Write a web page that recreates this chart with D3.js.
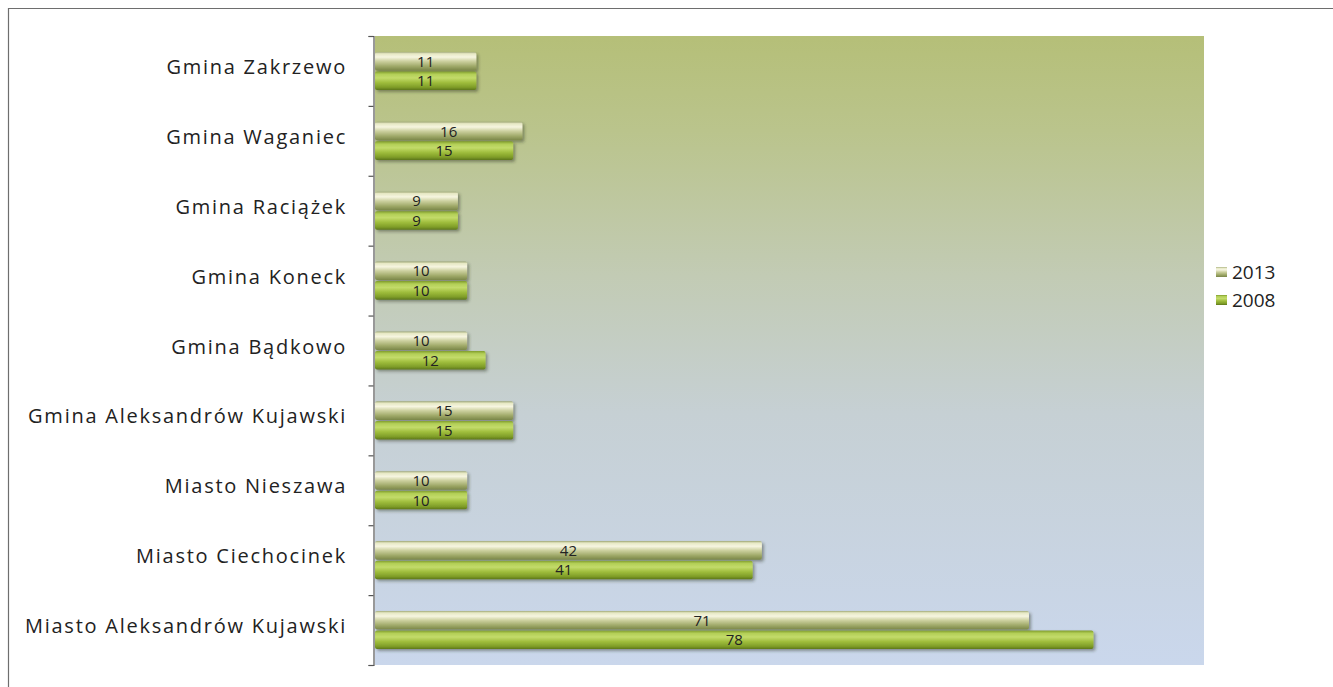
<!DOCTYPE html>
<html>
<head>
<meta charset="utf-8">
<script src="https://cdn.jsdelivr.net/npm/d3@7"></script>
<style>
  html, body { margin: 0; padding: 0; background: #ffffff; }
  svg { display: block; }
</style>
</head>
<body>
<svg id="chart" width="1333" height="687"></svg>
<script>
const categories = [
  "Gmina Zakrzewo",
  "Gmina Waganiec",
  "Gmina Raciążek",
  "Gmina Koneck",
  "Gmina Bądkowo",
  "Gmina Aleksandrów Kujawski",
  "Miasto Nieszawa",
  "Miasto Ciechocinek",
  "Miasto Aleksandrów Kujawski"
];
const seriesNames = ["2013", "2008"];
const values2013 = [11, 16, 9, 10, 10, 15, 10, 42, 71];
const values2008 = [11, 15, 9, 10, 12, 15, 10, 41, 78];
const xMax = 90;

const svg = d3.select("#chart");
const W = 1333, H = 687;
const plot = { left: 375, right: 1204, top: 36, bottom: 665 };
const FONT = "'Open Sans', 'Noto Sans', sans-serif";

// outer frame
svg.append("path")
  .attr("d", `M8.5,${H} L8.5,8.5 L${W},8.5`)
  .attr("fill", "none").attr("stroke", "#6e6e6e").attr("stroke-width", 1.2);

const defs = svg.append("defs");
const bg = defs.append("linearGradient").attr("id", "bgGrad")
  .attr("x1", 0).attr("y1", 0).attr("x2", 0).attr("y2", 1);
[[0, "#b5bf78"], [0.15, "#bac48c"], [0.38, "#c2cbb4"], [0.6, "#c6d0d4"], [1, "#cad7ec"]]
  .forEach(([o, c]) => bg.append("stop").attr("offset", o).attr("stop-color", c));

const g13 = defs.append("linearGradient").attr("id", "g2013")
  .attr("x1", 0).attr("y1", 0).attr("x2", 0).attr("y2", 1);
[[0, "#a0a877"], [0.1, "#e6e8c4"], [0.28, "#f6f5e0"], [0.5, "#cdd1a0"], [0.78, "#9ea867"], [1, "#7a8648"]]
  .forEach(([o, c]) => g13.append("stop").attr("offset", o).attr("stop-color", c));

const g08 = defs.append("linearGradient").attr("id", "g2008")
  .attr("x1", 0).attr("y1", 0).attr("x2", 0).attr("y2", 1);
[[0, "#7f9c2c"], [0.15, "#b3cf57"], [0.35, "#c3db6a"], [0.6, "#9fbd3c"], [0.85, "#7f9d28"], [1, "#5d761b"]]
  .forEach(([o, c]) => g08.append("stop").attr("offset", o).attr("stop-color", c));

const shadow = defs.append("filter").attr("id", "shadow")
  .attr("x", "-5%").attr("y", "-30%").attr("width", "115%").attr("height", "170%");
shadow.append("feDropShadow").attr("dx", 2).attr("dy", 2).attr("stdDeviation", 1.6)
  .attr("flood-color", "#2a3020").attr("flood-opacity", 0.45);

svg.append("rect")
  .attr("x", plot.left).attr("y", plot.top)
  .attr("width", plot.right - plot.left).attr("height", plot.bottom - plot.top)
  .attr("fill", "url(#bgGrad)");

const x = d3.scaleLinear().domain([0, xMax]).range([plot.left, plot.right]);
const y = d3.scaleBand().domain(categories).range([plot.top, plot.bottom])
  .paddingInner(0.44).paddingOuter(0.22);
const ySub = d3.scaleBand().domain(seriesNames).range([0, y.bandwidth()]);

// axis
const yAxis = d3.axisLeft(d3.scaleLinear().domain([0, categories.length]).range([plot.top, plot.bottom]))
  .ticks(categories.length).tickFormat("").tickSize(5).tickSizeOuter(5);
const ax = svg.append("g").attr("transform", `translate(${plot.left - 1.5},0)`).call(yAxis);
ax.selectAll("path, line").attr("stroke", "#555").attr("stroke-width", 1.2);

const data = [];
categories.forEach((c, i) => {
  data.push({ cat: c, s: "2013", v: values2013[i] });
  data.push({ cat: c, s: "2008", v: values2008[i] });
});

const bars = svg.append("g");
bars.selectAll("rect").data(data).enter().append("rect")
  .attr("x", x(0))
  .attr("y", d => y(d.cat) + ySub(d.s) + 0.5)
  .attr("width", d => x(d.v) - x(0))
  .attr("height", ySub.bandwidth() - 1)
  .attr("rx", 2)
  .attr("fill", d => d.s === "2013" ? "url(#g2013)" : "url(#g2008)")
  .attr("filter", "url(#shadow)");

svg.append("g").selectAll("text").data(data).enter().append("text")
  .attr("x", d => (x(0) + x(d.v)) / 2)
  .attr("y", d => y(d.cat) + ySub(d.s) + ySub.bandwidth() / 2 + 5.5)
  .attr("text-anchor", "middle")
  .attr("font-family", FONT)
  .attr("font-size", 15)
  .attr("fill", "#222")
  .text(d => d.v);

svg.append("g").selectAll("text").data(categories).enter().append("text")
  .attr("x", 347)
  .attr("y", d => y(d) + y.bandwidth() / 2 + 3)
  .attr("text-anchor", "end")
  .attr("font-family", FONT)
  .attr("font-size", 20)
  .attr("letter-spacing", 1.75)
  .attr("fill", "#222")
  .text(d => d);

// legend
const legend = svg.append("g");
seriesNames.forEach((s, i) => {
  const ly = 272 + i * 28;
  legend.append("rect").attr("x", 1216).attr("y", ly - 5).attr("width", 11).attr("height", 10)
    .attr("fill", s === "2013" ? "url(#g2013)" : "url(#g2008)");
  legend.append("text").attr("x", 1232).attr("y", ly + 7)
    .attr("font-family", FONT).attr("font-size", 19)
    .attr("fill", "#222").text(s);
});
</script>
</body>
</html>
